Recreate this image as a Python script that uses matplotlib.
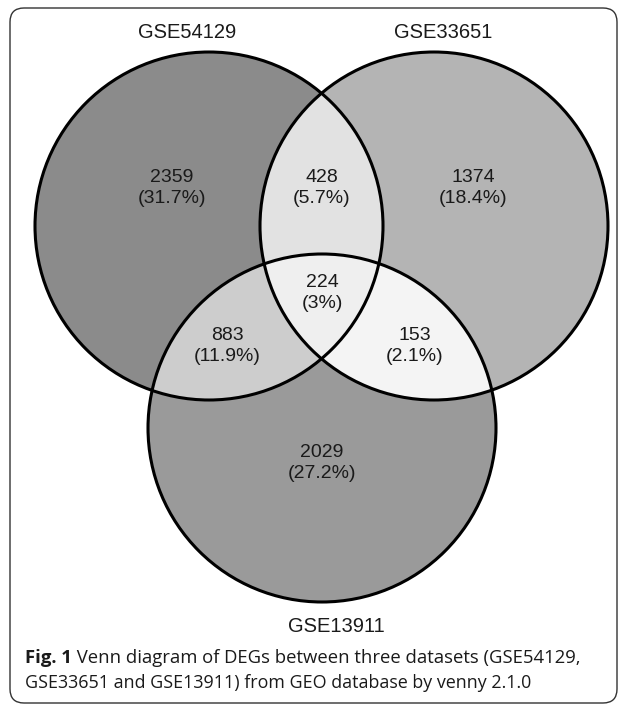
#!/usr/bin/env python3

import numpy as np
import matplotlib.pyplot as plt
from matplotlib.patches import Circle, FancyBboxPatch

W, H = 627, 704

# data
set_names = ["GSE54129", "GSE33651", "GSE13911"]
# regions: A only, B only, C only, AB, AC, BC, ABC
region_counts = [2359, 1374, 2029, 428, 883, 153, 224]
region_pcts = ["31.7%", "18.4%", "27.2%", "5.7%", "11.9%", "2.1%", "3%"]

caption_bold = "Fig. 1"
caption_line1 = " Venn diagram of DEGs between three datasets (GSE54129,"
caption_line2 = "GSE33651 and GSE13911) from GEO database by venny 2.1.0"

# ---------------------------
# layout (pixel units, y down)
# ---------------------------
centers = [(209, 226), (434, 226), (322, 428)]
radius = 174
region_colors = ["#8b8b8b", "#b4b4b4", "#9a9a9a",
                 "#e2e2e2", "#cecece", "#f4f4f4", "#efefef"]
label_pos = [(172, 188), (473, 188), (322, 463),
             (322, 188), (227, 346), (415, 346), (322, 293)]
name_pos = [(187, 33), (443, 33), (336, 627)]

fig = plt.figure(figsize=(W / 100, H / 100), dpi=100)
ax = fig.add_axes([0, 0, 1, 1])
ax.set_xlim(0, W)
ax.set_ylim(H, 0)
ax.axis("off")

# region fills from circle membership
xs = np.linspace(0, W, W * 3)
ys = np.linspace(0, H, H * 3)
X, Y = np.meshgrid(xs, ys)
inside = [(X - cx) ** 2 + (Y - cy) ** 2 <= radius ** 2 for cx, cy in centers]
a, b, c = inside
masks = [a & ~b & ~c, b & ~a & ~c, c & ~a & ~b,
         a & b & ~c, a & c & ~b, b & c & ~a, a & b & c]
img = np.zeros(X.shape + (4,))
for m, col in zip(masks, region_colors):
    img[m] = plt.matplotlib.colors.to_rgba(col)
ax.imshow(img, extent=(0, W, H, 0), origin="upper", interpolation="bilinear", zorder=1)

for cx, cy in centers:
    ax.add_patch(Circle((cx, cy), radius, fill=False, ec="black", lw=2.2, zorder=3))

font = "Liberation Sans"
for (x, y), n, p in zip(label_pos, region_counts, region_pcts):
    ax.text(x, y, f"{n}\n({p})", ha="center", va="center", fontsize=14,
            family=font, linespacing=1.25, color="#1a1a1a", zorder=4)

for (x, y), name in zip(name_pos, set_names):
    ax.text(x, y, name, ha="center", va="center", fontsize=14.5, family=font,
            color="#1a1a1a")

# caption
fig.canvas.draw()
t = ax.text(25, 658, caption_bold, ha="left", va="center", fontsize=13.3,
            family="Open Sans", weight="bold", color="#1a1a1a")
bb = t.get_window_extent(fig.canvas.get_renderer())
x_end = ax.transData.inverted().transform((bb.x1, bb.y0))[0]
ax.text(x_end, 658, caption_line1, ha="left", va="center", fontsize=13.3,
        family="Open Sans", color="#1a1a1a")
ax.text(25, 683, caption_line2, ha="left", va="center", fontsize=12.85,
        family="Open Sans", color="#1a1a1a")

# frame
ax.add_patch(FancyBboxPatch((10, 8), 607, 695, boxstyle="round,pad=0,rounding_size=14",
                            fill=False, ec="#333333", lw=1.0, zorder=0, clip_on=False))

fig.savefig("out.png", dpi=100)
